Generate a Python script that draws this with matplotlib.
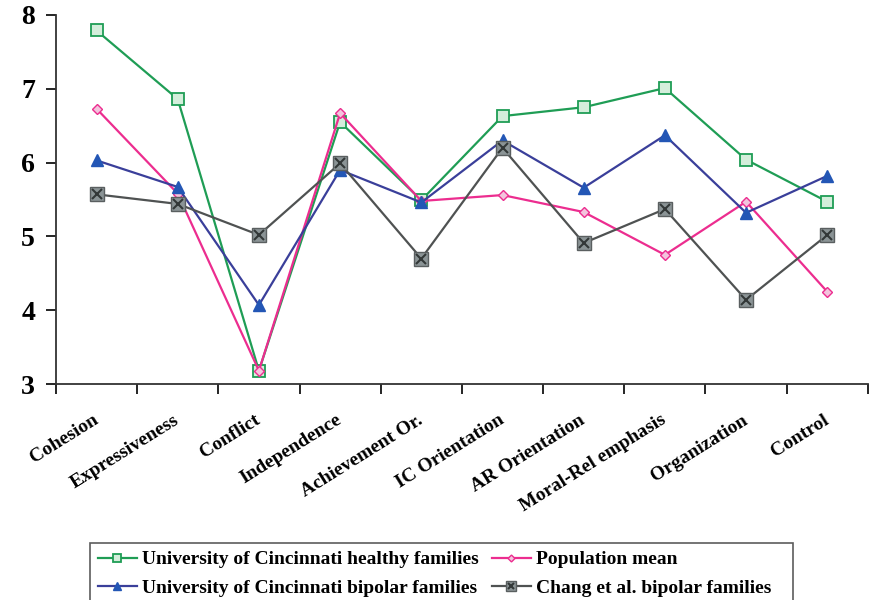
import numpy as np
import matplotlib
matplotlib.use("Agg")
import matplotlib.pyplot as plt
from matplotlib.legend_handler import HandlerTuple

##### FES subscale profiles
categories = ["Cohesion", "Expressiveness", "Conflict", "Independence",
              "Achievement Or.", "IC Orientation", "AR Orientation",
              "Moral-Rel emphasis", "Organization", "Control"]

uc_healthy = [7.79, 6.86, 3.18, 6.55, 5.49, 6.63, 6.75, 7.01, 6.04, 5.47]
pop_mean = [6.73, 5.58, 3.18, 6.67, 5.48, 5.56, 5.33, 4.75, 5.47, 4.25]
uc_bipolar = [6.03, 5.67, 4.07, 5.90, 5.46, 6.30, 5.66, 6.37, 5.32, 5.82]
chang_bipolar = [5.57, 5.44, 5.02, 5.99, 4.70, 6.20, 4.91, 5.37, 4.14, 5.02]

plt.rcParams['font.family'] = ['Liberation Serif', 'DejaVu Serif']
plt.rcParams['font.weight'] = 'bold'

fig = plt.figure(figsize=(8.74, 6.0), dpi=100)
ax = fig.add_axes([0.064, 0.36, 0.929, 0.615])

x = np.arange(len(categories))

l1, = ax.plot(x, uc_healthy, '-s', color="#1f9d55", lw=1.6, ms=8,
              mfc="#d4eedb", mec="#1f9d55", mew=1.3)
l2, = ax.plot(x, pop_mean, '-D', color="#ec2d8f", lw=1.6, ms=5,
              mfc="#f3c4dd", mec="#ec2d8f", mew=1.0)
l3, = ax.plot(x, uc_bipolar, '-^', color="#3a3f9a", lw=1.6, ms=8,
              mfc="#2356b5", mec="#2356b5")
l4, = ax.plot(x, chang_bipolar, '-s', color="#4f5252", lw=1.6, ms=10,
              mfc="#8b9496", mec="#5a5f60")
l4x, = ax.plot(x, chang_bipolar, 'x', color="#333838", ms=7, mew=1.5)

ax.set_xlim(-0.5, len(categories) - 0.5)
ax.set_ylim(3, 8)
ax.set_yticks([3, 4, 5, 6, 7, 8])
ax.tick_params(axis='y', labelsize=20, length=7, width=1.2, direction='out', pad=8)
ax.set_xticks(x)
ax.set_xticklabels(categories, rotation=32, ha='right', rotation_mode='anchor',
                   va='center', fontsize=14)
ax.tick_params(axis='x', which='major', length=0, pad=25)
ax.set_xticks(np.arange(-0.5, len(categories), 1.0), minor=True)
ax.tick_params(axis='x', which='minor', length=7, width=1.2, direction='out')

for s in ['top', 'right']:
    ax.spines[s].set_visible(False)
for s in ['left', 'bottom']:
    ax.spines[s].set_linewidth(1.3)
    ax.spines[s].set_color("#333333")

leg = fig.legend([l1, l3, l2, (l4, l4x)],
                 ["University of Cincinnati healthy families",
                  "University of Cincinnati bipolar families",
                  "Population mean",
                  "Chang et al. bipolar families   "],
                 handler_map={tuple: HandlerTuple(ndivide=1, pad=0)},
                 ncol=2, loc='upper left', bbox_to_anchor=(0.103, 0.095),
                 borderaxespad=0,
                 fontsize=14, frameon=True, fancybox=False, edgecolor="#333333",
                 handlelength=2.0, handletextpad=0.25, columnspacing=0.7,
                 borderpad=0.4, labelspacing=0.55, markerscale=0.7)
leg.get_frame().set_linewidth(1.2)

plt.savefig("out.png", dpi=100)
